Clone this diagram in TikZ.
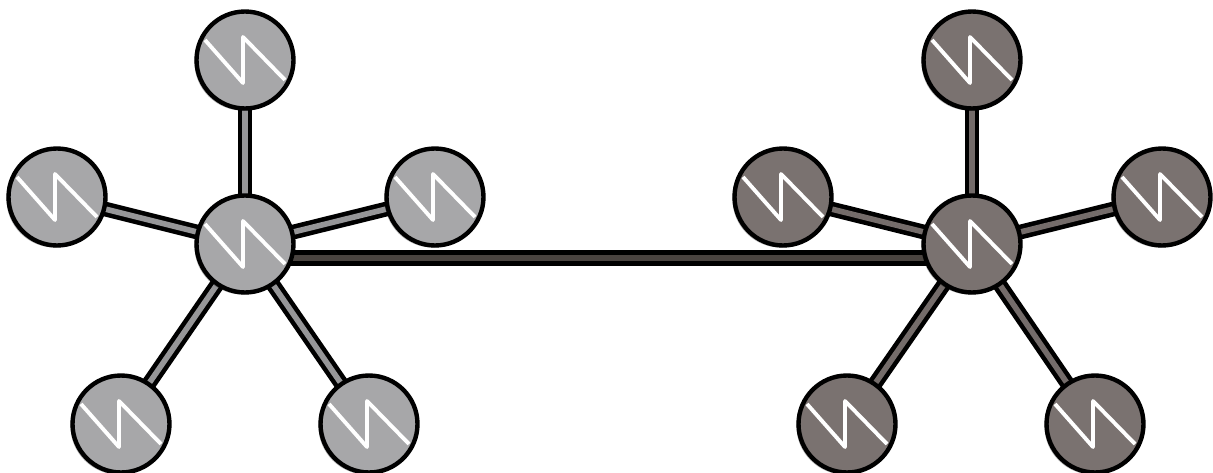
\documentclass[tikz,border=0pt]{standalone}
\usetikzlibrary{backgrounds,shadows}
\definecolor{lightcell}{HTML}{A7A7A9}
\definecolor{darkcell}{HTML}{7A7270}
\definecolor{linkcore}{HTML}{4A4440}
\tikzset{
	cell/.style={circle,draw=black,line width=2.5pt,minimum size=1.94cm,inner sep=0pt,
		drop shadow={shadow xshift=-1.2pt,shadow yshift=-1.2pt,opacity=.3,fill=black},
		path picture={\draw[white,line width=2.2pt,line join=round]
			([shift={(-40,-20)}]path picture bounding box.center)
			--([shift={(-2,23)}]path picture bounding box.center)
			--([shift={(-2,-23)}]path picture bounding box.center)
			--([shift={(40,20)}]path picture bounding box.center);}},
	leftcell/.style={cell,fill=lightcell},
	rightcell/.style={cell,fill=darkcell},
	spoke/.style={draw=black,line width=2.6pt,double distance=3.2pt},
	leftspoke/.style={spoke,double=lightcell!90!black},
	rightspoke/.style={spoke,double=darkcell!95!black},
	hublink/.style={draw=black,line width=3pt,double=linkcore,double distance=3.2pt}
}
\begin{document}
\begin{tikzpicture}[x=.02cm,y=-.02cm,line join=round]
	\useasboundingbox (0,0) rectangle (1213,473);
	% left group
	\node[leftcell] (hubL) at (245,244) {};
	\node[leftcell] (topL) at (245,60) {};
	\node[leftcell] (westL) at (57,197) {};
	\node[leftcell] (eastL) at (435,197) {};
	\node[leftcell] (swL) at (121,424) {};
	\node[leftcell] (seL) at (369,424) {};
	% right group
	\node[rightcell] (hubR) at (972,244) {};
	\node[rightcell] (topR) at (972,60) {};
	\node[rightcell] (westR) at (783,197) {};
	\node[rightcell] (eastR) at (1162,197) {};
	\node[rightcell] (swR) at (847,424) {};
	\node[rightcell] (seR) at (1095,424) {};
	\begin{scope}[on background layer]
		\foreach \a in {topL,westL,eastL,swL,seL}
			\draw[leftspoke] (hubL.center)--(\a.center);
		\foreach \a in {topR,westR,eastR,swR,seR}
			\draw[rightspoke] (hubR.center)--(\a.center);
		\draw[hublink] ([shift={(0,14)}]hubL.center)--([shift={(0,14)}]hubR.center);
	\end{scope}
\end{tikzpicture}
\end{document}
